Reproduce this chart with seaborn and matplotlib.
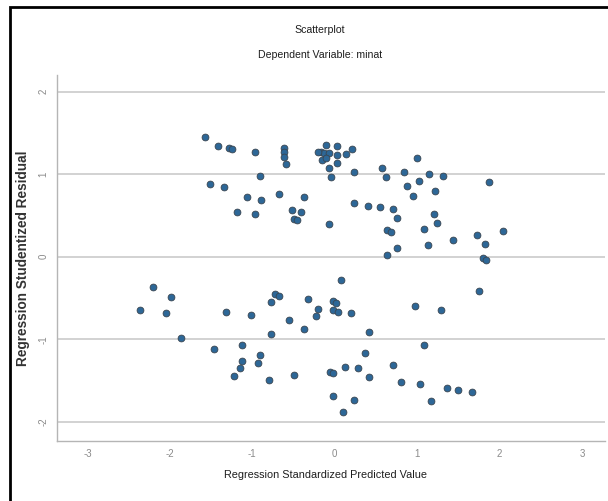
import matplotlib
matplotlib.use("Agg")
import matplotlib.pyplot as plt
import seaborn as sns
import pandas as pd
from matplotlib.patches import Rectangle

# values
predicted = [
    -1.57, -1.42, -1.28, -1.25, -0.97, -0.62, -0.62, -0.61, -0.59, -0.91,
    -1.51, -1.34, -1.06, -0.90, -0.67, -0.37, -1.18, -0.97, -0.52, -0.41,
    -0.49, -0.46,
    -0.11, 0.03, 0.21, 0.14, -0.17, -0.13, -0.07, 0.03, -0.15, 0.03,
    -0.07, -0.04, 0.23, -0.20, -0.11,
    1.00, 0.57, 0.62, 0.84, 1.15, 1.31, 0.88, 1.02, 1.87, 1.22,
    0.95, 0.23, 0.41, 0.55, 0.71, 0.76, 1.20, 1.24, -0.07, 0.64,
    0.68, 1.08, 1.44, 1.73, 2.04, 1.82, 1.13, 0.76, 0.63, 1.80, 1.83,
    0.08, -0.32, -0.02, 0.01, -0.02, 0.04, -0.20, -0.23, 0.20, 0.97,
    1.29, 1.75, 0.42, 1.08, 0.37, 0.13, 0.28, -0.06, -0.02, 0.71,
    0.42, 0.81, 1.04, 1.36, 1.50, 1.66, -0.02, 0.23, 1.17, 0.10,
    -2.21, -1.99, -2.36, -2.05, -1.86, -1.32, -1.02, -0.72, -0.67, -0.77,
    -0.55, -0.37, -0.77, -1.47, -1.12, -0.91, -0.93, -1.12, -1.15, -1.22,
    -0.80, -0.50,
]
residual = [
    1.45, 1.34, 1.32, 1.30, 1.27, 1.32, 1.27, 1.21, 1.12, 0.98,
    0.88, 0.85, 0.72, 0.69, 0.76, 0.72, 0.54, 0.52, 0.56, 0.54,
    0.46, 0.44,
    1.35, 1.34, 1.31, 1.24, 1.27, 1.25, 1.26, 1.23, 1.17, 1.13,
    1.07, 0.97, 1.03, 1.27, 1.19,
    1.20, 1.08, 0.97, 1.03, 1.00, 0.98, 0.86, 0.92, 0.91, 0.79,
    0.74, 0.65, 0.62, 0.60, 0.58, 0.47, 0.52, 0.41, 0.40, 0.32,
    0.30, 0.34, 0.20, 0.26, 0.31, 0.15, 0.14, 0.10, 0.02, -0.02, -0.04,
    -0.28, -0.51, -0.54, -0.56, -0.65, -0.67, -0.63, -0.72, -0.68, -0.59,
    -0.64, -0.41, -0.91, -1.07, -1.17, -1.34, -1.35, -1.39, -1.41, -1.31,
    -1.46, -1.52, -1.54, -1.59, -1.61, -1.64, -1.69, -1.73, -1.75, -1.88,
    -0.37, -0.49, -0.64, -0.68, -0.98, -0.67, -0.71, -0.45, -0.47, -0.55,
    -0.76, -0.88, -0.93, -1.12, -1.07, -1.19, -1.28, -1.26, -1.35, -1.44,
    -1.49, -1.43,
]
x_ticks = [-3, -2, -1, 0, 1, 2, 3]
y_ticks = [-2, -1, 0, 1, 2]

df = pd.DataFrame({"pred": predicted, "resid": residual})

sns.set_style("white")
plt.rcParams["font.family"] = ["Liberation Sans", "DejaVu Sans"]

fig = plt.figure(figsize=(6.08, 5.01), dpi=100)
ax = fig.add_axes([57 / 608, 1 - 441 / 501, 548 / 608, 366 / 501])

sns.scatterplot(data=df, x="pred", y="resid", ax=ax, s=24,
                color="#2d6797", edgecolor="#3a4550", linewidth=0.6, zorder=3)

ax.set_xlim(-3.37, 3.28)
ax.set_ylim(-2.23, 2.2)
ax.set_xticks(x_ticks)
ax.set_yticks(y_ticks)
ax.set_xticklabels([str(t) for t in x_ticks], fontsize=7, color="#8a8a8a")
ax.set_yticklabels([str(t) for t in y_ticks], fontsize=7, color="#8a8a8a",
                   rotation=90, va="center")
ax.tick_params(axis="both", length=3, width=0.8, color="#b8b8b8", pad=3)

for y in y_ticks:
    ax.axhline(y, color="#d2d2d2", linewidth=1.4, zorder=1)

for side in ["top", "right"]:
    ax.spines[side].set_visible(False)
for side in ["left", "bottom"]:
    ax.spines[side].set_color("#b5b5b5")
    ax.spines[side].set_linewidth(1.0)

ax.set_xlabel("Regression Standardized Predicted Value", fontsize=7.8,
              color="#1e1e1e", fontweight="medium")
ax.xaxis.set_label_coords(268 / 548, -29 / 366)
ax.set_ylabel("Regression Studentized Residual", fontsize=9.8, fontweight="bold",
              color="#333333")
ax.yaxis.set_label_coords(-27 / 548, 0.5)

fig.text(320 / 608, 1 - 30 / 501, "Scatterplot", ha="center", va="center",
         fontsize=7.6, color="#1e1e1e", fontweight="medium")
fig.text(320 / 608, 1 - 55 / 501, "Dependent Variable: minat", ha="center",
         va="center", fontsize=7.6, color="#1e1e1e", fontweight="medium")

# page frame, only its top and left edges fall inside the picture
fig.patches.append(Rectangle((10 / 608, -0.1), 1.2, 1 - 7 / 501 + 0.1,
                             transform=fig.transFigure, fill=False,
                             edgecolor="black", linewidth=2))

fig.savefig("out.png", dpi=100, facecolor="white")
